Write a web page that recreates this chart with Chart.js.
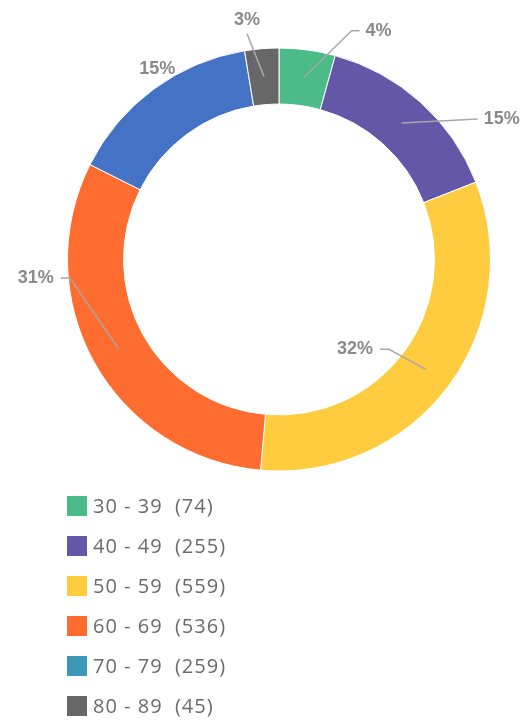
<!DOCTYPE html>
<html>
<head>
<meta charset="utf-8">
<script src="https://cdn.jsdelivr.net/npm/chart.js@4/dist/chart.umd.min.js"></script>
<style>
  html, body { margin: 0; padding: 0; background: #fff; }
  #wrap { width: 526px; height: 724px; }
</style>
</head>
<body>
<div id="wrap"><canvas id="ageChart" width="526" height="724"></canvas></div>
<script>
// data
const ageGroups = ['30 - 39', '40 - 49', '50 - 59', '60 - 69', '70 - 79', '80 - 89'];
const counts = [74, 255, 559, 536, 259, 45];
const sliceColors = ['#4bbb88', '#6457a8', '#ffcc40', '#ff6c30', '#4472c4', '#676767'];
// legend swatch for 70-79 differs from its slice in the original
const legendColors = ['#4bbb88', '#6457a8', '#ffcc40', '#ff6c30', '#3d97b6', '#676767'];

// label placement: offset of line end from slice middle, plus how the text sits
const labelSpots = [
    { dx: 48, dy: -47, tail: 8, side: 'right' },
    { dx: 76, dy: -4, tail: 0, side: 'right' },
    { dx: -37, dy: -20, tail: -9, side: 'left' },
    { dx: -49, dy: -71, tail: -9, side: 'left' },
    { dx: -13, dy: -43, tail: 0, side: 'none' },
    { dx: -17, dy: -43, tail: 0, side: 'top' }
];

const total = counts.reduce((a, b) => a + b, 0);

const outsideLabels = {
    id: 'outsideLabels',
    afterDatasetsDraw(chart) {
        const ctx = chart.ctx;
        const meta = chart.getDatasetMeta(0);
        ctx.save();
        ctx.font = 'bold 18px "Liberation Sans"';
        ctx.textBaseline = 'middle';
        meta.data.forEach((arc, i) => {
            const p = arc.getProps(['x', 'y', 'startAngle', 'endAngle', 'innerRadius', 'outerRadius'], true);
            const mid = (p.startAngle + p.endAngle) / 2;
            const r = (p.innerRadius + p.outerRadius) / 2;
            const sx = p.x + Math.cos(mid) * r;
            const sy = p.y + Math.sin(mid) * r;
            const s = labelSpots[i];
            const ex = sx + s.dx, ey = sy + s.dy;
            const txt = Math.round(counts[i] / total * 100) + '%';
            ctx.fillStyle = '#8a8a8a';
            if (s.side === 'none') {
                ctx.textAlign = 'center';
                ctx.fillText(txt, ex, ey);
                return;
            }
            ctx.strokeStyle = '#a8a8a8';
            ctx.lineWidth = 1.5;
            ctx.beginPath();
            ctx.moveTo(sx, sy);
            ctx.lineTo(ex, ey);
            ctx.lineTo(ex + s.tail, ey);
            ctx.stroke();
            if (s.side === 'right') {
                ctx.textAlign = 'left';
                ctx.fillText(txt, ex + s.tail + 6, ey);
            } else if (s.side === 'left') {
                ctx.textAlign = 'right';
                ctx.fillText(txt, ex + s.tail - 7, ey);
            } else {
                ctx.textAlign = 'center';
                ctx.fillText(txt, ex, ey - 14);
            }
        });
        ctx.restore();
    }
};

const listLegend = {
    id: 'listLegend',
    afterDraw(chart) {
        const ctx = chart.ctx;
        ctx.save();
        ctx.font = '20px "Open Sans"';
        ctx.letterSpacing = '1px';
        ctx.textBaseline = 'middle';
        ctx.textAlign = 'left';
        ageGroups.forEach((g, i) => {
            const y = 506 + i * 40;
            ctx.fillStyle = legendColors[i];
            ctx.fillRect(67, y - 10, 20, 20);
            ctx.fillStyle = '#6a6a6a';
            ctx.fillText(g + '  (' + counts[i] + ')', 93, y + 1);
        });
        ctx.restore();
    }
};

const ctx = document.getElementById('ageChart').getContext('2d');
new Chart(ctx, {
    type: 'doughnut',
    data: {
        labels: ageGroups,
        datasets: [{
            data: counts,
            backgroundColor: sliceColors,
            borderColor: '#ffffff',
            borderWidth: 1
        }]
    },
    options: {
        responsive: false,
        animation: false,
        cutout: '73.5%',
        layout: { padding: { left: 67, right: 35, top: 47, bottom: 252 } },
        plugins: {
            legend: { display: false },
            tooltip: { enabled: false }
        }
    },
    plugins: [outsideLabels, listLegend]
});
</script>
</body>
</html>
